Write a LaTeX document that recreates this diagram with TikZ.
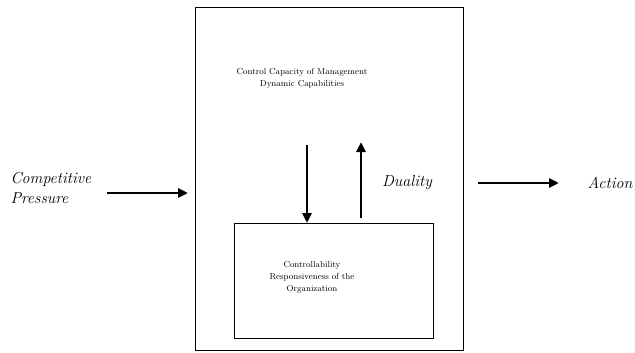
\documentclass[tikz,border=0pt]{standalone}
\usetikzlibrary{arrows.meta}
\begin{document}
\begin{tikzpicture}[x=1pt,y=-1pt]
        \tikzstyle{frame}=[rectangle,draw=black,line width=1.1pt,anchor=north west,inner sep=0pt]
        \tikzstyle{term}=[font=\fontsize{16}{20}\selectfont\itshape]
        \tikzstyle{note}=[font=\fontsize{8.7}{12}\selectfont,align=center]
        \tikzstyle{flow}=[draw,line width=2.8pt,-{Triangle[length=10pt,width=9pt]}]
        \useasboundingbox (0,0) rectangle (635,353);
       \begin{scope}
         \node [frame,minimum width=268,minimum height=343] (outer) at (195,7) {};
         \node [frame,line width=0.9pt,minimum width=199,minimum height=115] (inner) at (234,223) {};
         \node [note] (capacity) at (302,78) {Control Capacity of Management\\Dynamic Capabilities};
         \node [note] (control) at (312,277) {Controllability\\Responsiveness of the\\Organization};
         \node [term,align=left,anchor=west] (pressure) at (7,188) {Competitive\\Pressure};
         \node [term] (duality) at (407,183) {Duality};
         \node [term,anchor=west] (action) at (584,183) {Action};
         \coordinate (inL) at (107,193);
         \coordinate (inR) at (188,193);
         \coordinate (down) at (307,145);
         \coordinate (upL) at (361,218);
         \coordinate (upH) at (361,142);
         \coordinate (outL) at (478,183);
         \coordinate (outR) at (559,183);
         \path[flow] (inL) -- (inR);
         \path[flow] (down) -- (down |- inner.north);
         \path[flow] (upL) -- (upH);
         \path[flow] (outL) -- (outR);
        \end{scope}
      \end{tikzpicture}
\end{document}
